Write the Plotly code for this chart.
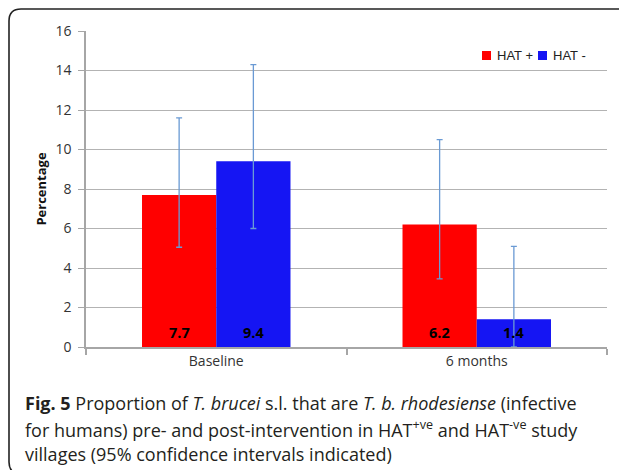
import plotly.graph_objects as go

categories = ["Baseline", "6 months"]
series_names = ["HAT +", "HAT -"]
hat_pos = [7.7, 6.2]
hat_neg = [9.4, 1.4]
hat_pos_upper = [11.6, 10.5]
hat_pos_lower = [5.05, 3.45]
hat_neg_upper = [14.3, 5.1]
hat_neg_lower = [6.0, 0.0]
y_ticks = [0, 2, 4, 6, 8, 10, 12, 14, 16]

RED = "#ff0000"
BLUE = "#1515f3"
ERR = "#6a9ad4"

W, H = 619, 462
ML, MR, MT, MB = 78, 20, 23, 123
BARGAP = 0.43
pw, ph = W - ML - MR, H - MT - MB

tick_font = dict(family="Open Sans", size=14, color="#333")


def err(vals, up, lo):
    return dict(type="data", symmetric=False,
                array=[u - v for u, v in zip(up, vals)],
                arrayminus=[v - l for l, v in zip(lo, vals)],
                color=ERR, thickness=1.3, width=3)


fig = go.Figure()
for name, vals, up, lo, col in [(series_names[0], hat_pos, hat_pos_upper, hat_pos_lower, RED),
                                (series_names[1], hat_neg, hat_neg_upper, hat_neg_lower, BLUE)]:
    fig.add_trace(go.Bar(name=name, x=categories, y=vals, marker_color=col,
                         marker_line_width=0, error_y=err(vals, up, lo), showlegend=False))

fig.update_layout(
    width=W, height=H,
    margin=dict(l=ML, r=MR, t=MT, b=MB),
    paper_bgcolor="white", plot_bgcolor="white",
    barmode="group", bargap=BARGAP, bargroupgap=0,
    showlegend=False,
    xaxis=dict(showline=True, linecolor="#a6a6a6", linewidth=1.5, ticks="outside",
               tickson="boundaries", ticklen=6, tickcolor="#a6a6a6", tickwidth=1.5,
               tickfont=tick_font, showgrid=False, automargin=False),
    yaxis=dict(range=[0, 16], tickvals=y_ticks, showline=True, linecolor="#a6a6a6",
               linewidth=1.5, ticks="outside", ticklen=6, tickcolor="#a6a6a6", tickwidth=1.3,
               tickfont=tick_font, gridcolor="#b3b3b3", gridwidth=1.3, zeroline=False,
               automargin=False, ticklabelstandoff=4,
               title=dict(text="<b>Percentage</b>",
                          font=dict(family="Open Sans", size=13, color="#111"), standoff=6)),
)

# data labels near the bottom of each bar
bar_w = (pw / len(categories)) * (1 - BARGAP) / 2
for i, vals in enumerate([hat_pos, hat_neg]):
    shift = (i - 0.5) * bar_w
    for c, v in zip(categories, vals):
        fig.add_annotation(x=c, y=0, xref="x", yref="y", text=f"<b>{v:.1f}</b>",
                           showarrow=False, xshift=shift, yshift=15, yanchor="middle",
                           font=dict(family="Open Sans", size=14.5, color="black"))


def qx(x): return (x - ML) / pw
def qy(y): return 1 - (y - MT) / ph


# manual legend
leg_y = 47.5
for sx, tx, col, name in [(474, 487, RED, series_names[0]), (530, 543, BLUE, series_names[1])]:
    fig.add_shape(type="rect", xref="paper", yref="paper",
                  x0=qx(sx), x1=qx(sx + 9), y0=qy(leg_y - 4.5), y1=qy(leg_y + 4.5),
                  fillcolor=col, line_width=0)
    fig.add_annotation(xref="paper", yref="paper", x=qx(tx), y=qy(leg_y), text=name,
                       xanchor="left", yanchor="middle", showarrow=False,
                       font=dict(family="Liberation Sans", size=13, color="#222"))

# rounded frame
x0, y0, x1, y1, r = 1, 1, 630, 466, 12
path = (f"M {qx(x0+r)},{qy(y0)} L {qx(x1-r)},{qy(y0)} Q {qx(x1)},{qy(y0)} {qx(x1)},{qy(y0+r)} "
        f"L {qx(x1)},{qy(y1-r)} Q {qx(x1)},{qy(y1)} {qx(x1-r)},{qy(y1)} "
        f"L {qx(x0+r)},{qy(y1)} Q {qx(x0)},{qy(y1)} {qx(x0)},{qy(y1-r)} "
        f"L {qx(x0)},{qy(y0+r)} Q {qx(x0)},{qy(y0)} {qx(x0+r)},{qy(y0)} Z")
fig.add_shape(type="path", path=path, xref="paper", yref="paper",
              line=dict(color="#222", width=1.6), layer="above")

caption_lines = [
    "<b>Fig. 5</b> Proportion of <i>T. brucei</i> s.l. that are <i>T. b. rhodesiense</i> (infective",
    "for humans) pre- and post-intervention in HAT<sup>+ve</sup> and HAT<sup>-ve</sup> study",
    "villages (95% confidence intervals indicated)",
]
for k, line in enumerate(caption_lines):
    fig.add_annotation(text=line, xref="paper", yref="paper", x=qx(15), y=qy(395 + 25.5 * k),
                       xanchor="left", yanchor="middle", align="left", showarrow=False,
                       font=dict(family="Open Sans", size=18, color="#231f20"))

fig.write_html("out.html")
